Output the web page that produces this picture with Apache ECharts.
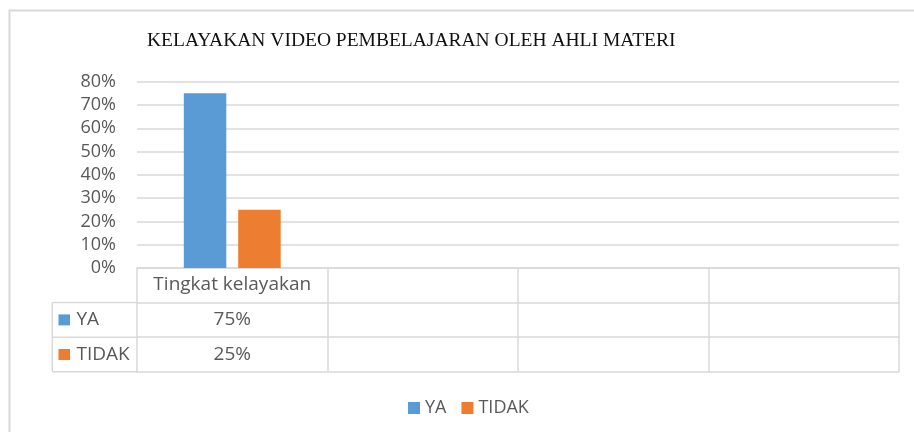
<!DOCTYPE html>
<html>
<head>
<meta charset="utf-8">
<script src="https://cdn.jsdelivr.net/npm/echarts@6/dist/echarts.min.js"></script>
<style>
html, body { margin: 0; padding: 0; background: #fff; }
#main { width: 914px; height: 432px; }
</style>
</head>
<body>
<div id="main"></div>
<script>
// data
var titleText = 'KELAYAKAN VIDEO PEMBELAJARAN OLEH AHLI MATERI';
var categories = ['Tingkat kelayakan', '', '', ''];
var seriesNames = ['YA', 'TIDAK'];
var yaValues = [0.75, null, null, null];
var tidakValues = [0.25, null, null, null];
var yMin = 0, yMax = 0.8, yStep = 0.1;

(function(){
    var myChart = echarts.init(document.getElementById('main'));
    var colors = ['#5b9bd5', '#ed7d31'];
    var textGray = '#595959';
    var lineGray = '#d9d9d9';
    var font = 'Open Sans';

    var gridLeft = 137, gridTop = 81.7, gridBottomY = 268, gridRight = 899;
    var rowH = 34.6;
    var tableLeft = 52.3;

    function pct(v){
        return v == null ? '' : Math.round(v * 100) + '%';
    }

    // x axes: header row + one row per series (data table)
    function tableAxis(offset, values, showLabel){
        return {
            type: 'category',
            data: categories,
            position: 'bottom',
            offset: offset,
            axisLine: { show: true, lineStyle: { color: lineGray, width: 1.5 } },
            axisTick: { show: showLabel, length: rowH, interval: 0, lineStyle: { color: lineGray, width: 1.5 } },
            axisLabel: {
                show: showLabel,
                interval: 0,
                color: textGray,
                fontFamily: font,
                fontSize: 19,
                lineHeight: 20,
                margin: 7,
                formatter: function(v, i){
                    return values ? pct(values[i]) : v;
                }
            },
            splitLine: { show: false }
        };
    }

    var rowLabels = [];
    seriesNames.forEach(function(name, k){
        var yc = gridBottomY + rowH * (k + 1) + rowH / 2;
        rowLabels.push({
            type: 'rect',
            shape: { x: 58.5, y: yc - 5.5, width: 11.5, height: 11 },
            style: { fill: colors[k] }
        });
        rowLabels.push({
            type: 'text',
            x: 76.5,
            y: yc,
            style: {
                text: name,
                fill: textGray,
                font: '19px "' + font + '"',
                textVerticalAlign: 'middle'
            }
        });
    });

    // left part of the table (row header cells)
    var tableLines = [];
    for (var r = 1; r <= seriesNames.length + 1; r++) {
        var y = gridBottomY + rowH * r;
        tableLines.push({
            type: 'line',
            shape: { x1: tableLeft, y1: y, x2: gridLeft, y2: y },
            style: { stroke: lineGray, lineWidth: 1.5 }
        });
    }
    tableLines.push({
        type: 'line',
        shape: { x1: tableLeft, y1: gridBottomY + rowH, x2: tableLeft, y2: gridBottomY + rowH * (seriesNames.length + 1) },
        style: { stroke: lineGray, lineWidth: 1.5 }
    });

    var option = {
        animation: false,
        backgroundColor: '#fff',
        color: colors,
        title: {
            text: titleText,
            left: 142,
            top: 26,
            textStyle: {
                fontFamily: 'Liberation Serif',
                fontSize: 19.5,
                fontWeight: 'normal',
                color: '#111'
            }
        },
        legend: {
            data: seriesNames,
            left: 408,
            top: 399,
            padding: 0,
            icon: 'rect',
            itemWidth: 12,
            itemHeight: 12,
            itemGap: 15,
            textStyle: { color: textGray, fontFamily: font, fontSize: 18 }
        },
        grid: {
            left: gridLeft,
            top: gridTop,
            width: gridRight - gridLeft,
            height: gridBottomY - gridTop,
            containLabel: false
        },
        xAxis: [
            tableAxis(0, null, true),
            tableAxis(rowH, yaValues, true),
            tableAxis(rowH * 2, tidakValues, true),
            tableAxis(rowH * 3, null, false)
        ],
        yAxis: {
            type: 'value',
            min: yMin,
            max: yMax,
            interval: yStep,
            axisLine: { show: false },
            axisTick: { show: false },
            axisLabel: {
                color: textGray,
                fontFamily: font,
                fontSize: 18,
                margin: 21,
                formatter: function(v){ return pct(v); }
            },
            splitLine: { lineStyle: { color: lineGray, width: 1.5 } }
        },
        series: [{
            name: seriesNames[0],
            type: 'bar',
            xAxisIndex: 0,
            barWidth: 42.5,
            barGap: '28%',
            data: yaValues
        }, {
            name: seriesNames[1],
            type: 'bar',
            xAxisIndex: 0,
            barWidth: 42.5,
            data: tidakValues
        }],
        graphic: [{
            type: 'rect',
            z: -10,
            shape: { x: 9.5, y: 10.5, width: 1000, height: 1000 },
            style: { fill: 'none', stroke: lineGray, lineWidth: 2 }
        }].concat(tableLines, rowLabels)
    };
    myChart.setOption(option);
})();
</script>
</body>
</html>
